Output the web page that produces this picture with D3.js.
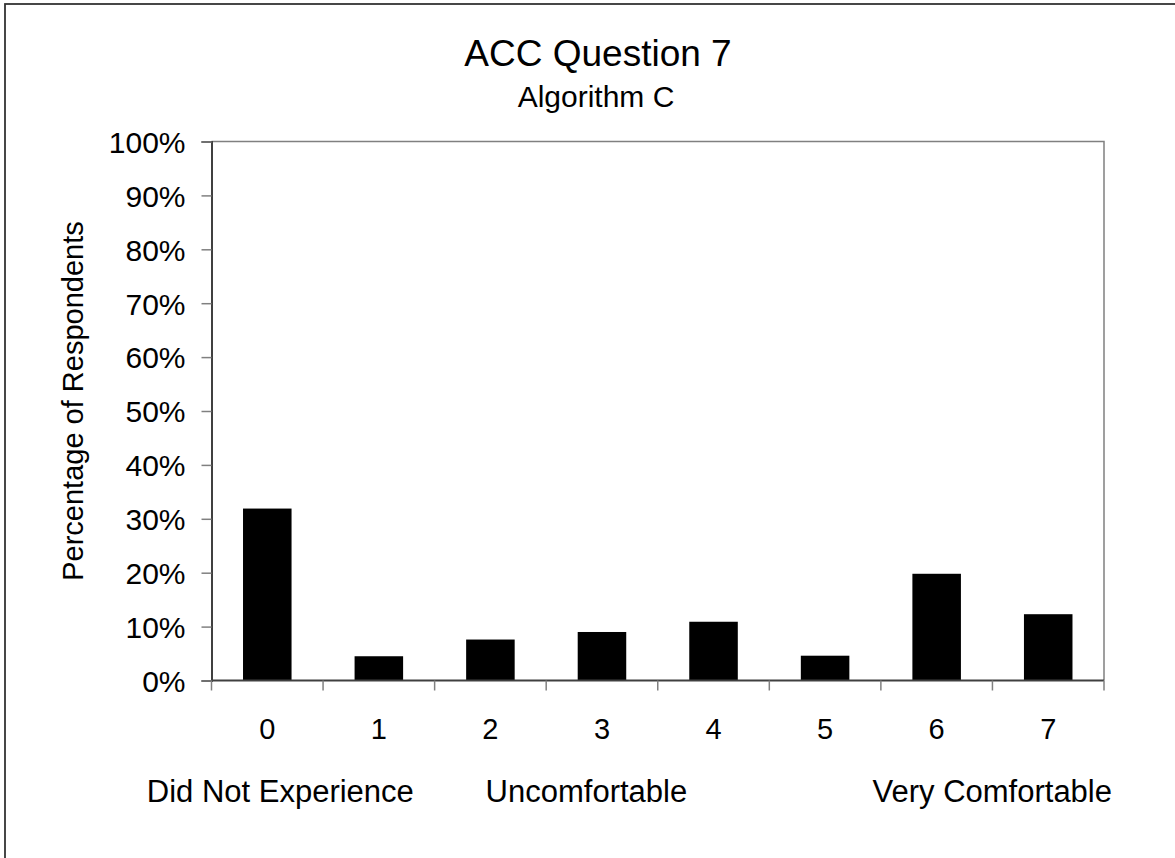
<!DOCTYPE html>
<html>
<head>
<meta charset="UTF-8">
<title>ACC Question 7</title>
<script src="https://d3js.org/d3.v7.min.js"></script>
<style>
    body { margin: 0; background: #fff; }
    svg { display: block; font-family: "Liberation Sans", Arial, sans-serif; }
    .tick text { fill: #000; }
</style>
</head>
<body>
<div id="chart"></div>
<script>
// data
const categories = ["0", "1", "2", "3", "4", "5", "6", "7"];
const percents = [31.9, 4.5, 7.6, 9.0, 10.9, 4.6, 19.8, 12.3];
const yTicks = [0, 10, 20, 30, 40, 50, 60, 70, 80, 90, 100];
const scaleNotes = ["Did Not Experience", "Uncomfortable", "Very Comfortable"];

const W = 1175, H = 858;
const margin = { top: 141.5, right: 71, bottom: 177.5, left: 211.5 };
const width = W - margin.left - margin.right;
const height = H - margin.top - margin.bottom;

const svg = d3.select("#chart").append("svg")
    .attr("width", W)
    .attr("height", H);

// outer chart border (runs off the right and bottom edges)
svg.append("rect")
    .attr("x", 5).attr("y", 4)
    .attr("width", W + 10).attr("height", H + 10)
    .attr("fill", "none")
    .attr("stroke", "#333")
    .attr("stroke-width", 1.8);

svg.append("text")
    .attr("x", 598).attr("y", 66)
    .attr("text-anchor", "middle")
    .style("font-size", "37px")
    .text("ACC Question 7");

svg.append("text")
    .attr("x", 596).attr("y", 107)
    .attr("text-anchor", "middle")
    .style("font-size", "30px")
    .text("Algorithm C");

const g = svg.append("g")
    .attr("transform", `translate(${margin.left},${margin.top})`);

const x = d3.scaleBand()
    .domain(categories)
    .range([0, width])
    .paddingInner(0.565)
    .paddingOuter(0.2825);

const y = d3.scaleLinear()
    .domain([0, 100])
    .range([height, 0]);

// plot-area frame: top and right
g.append("path")
    .attr("d", `M0,0H${width}V${height}`)
    .attr("fill", "none")
    .attr("stroke", "#808080")
    .attr("stroke-width", 1.5);

g.selectAll(".bar")
    .data(percents)
    .join("rect")
    .attr("class", "bar")
    .attr("x", (d, i) => x(categories[i]))
    .attr("y", d => y(d))
    .attr("width", x.bandwidth())
    .attr("height", d => y(0) - y(d))
    .attr("fill", "#000");

// y axis
const yAxis = g.append("g")
    .call(d3.axisLeft(y).tickValues(yTicks).tickSize(10).tickPadding(16)
        .tickFormat(d => d + "%"));
yAxis.select(".domain").attr("stroke", "#404040").attr("stroke-width", 2);
yAxis.selectAll(".tick line").attr("stroke", "#808080").attr("stroke-width", 1.5);
yAxis.selectAll(".tick text")
    .style("font-size", "30px")
    .attr("dy", "0.36em");

// x axis: ticks sit between the categories
const step = x.step();
const xAxis = g.append("g")
    .attr("transform", `translate(0,${height})`);
xAxis.append("line")
    .attr("x1", 0).attr("x2", width)
    .attr("stroke", "#404040").attr("stroke-width", 2);
xAxis.selectAll(".xtick")
    .data(d3.range(categories.length + 1))
    .join("line")
    .attr("class", "xtick")
    .attr("x1", i => i * step).attr("x2", i => i * step)
    .attr("y1", 0).attr("y2", 10)
    .attr("stroke", "#808080").attr("stroke-width", 1.5);
xAxis.selectAll(".xlab")
    .data(categories)
    .join("text")
    .attr("class", "xlab")
    .attr("x", d => x(d) + x.bandwidth() / 2)
    .attr("y", 58)
    .attr("text-anchor", "middle")
    .style("font-size", "29px")
    .text(d => d);

// scale-meaning notes under the digits
const noteX = [x("0") + x.bandwidth() / 2 + 13, x("2") + x.bandwidth() / 2 + 96, width + 8];
const noteAnchor = ["middle", "middle", "end"];
xAxis.selectAll(".note")
    .data(scaleNotes)
    .join("text")
    .attr("class", "note")
    .attr("x", (d, i) => noteX[i])
    .attr("y", 121)
    .attr("text-anchor", (d, i) => noteAnchor[i])
    .style("font-size", "31px")
    .text(d => d);

svg.append("text")
    .attr("transform", `translate(83, ${margin.top + height / 2 - 10}) rotate(-90)`)
    .attr("text-anchor", "middle")
    .style("font-size", "29px")
    .text("Percentage of Respondents");
</script>
</body>
</html>
